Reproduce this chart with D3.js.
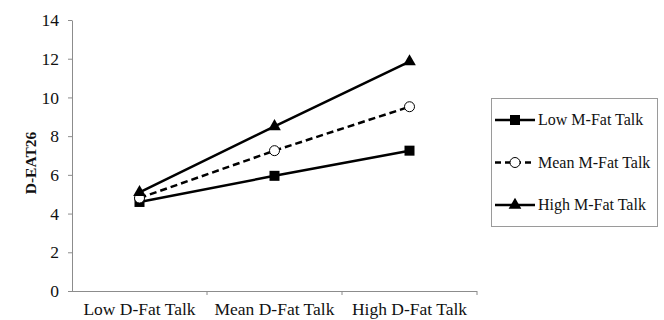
<!DOCTYPE html>
<html>
<head>
<meta charset="utf-8">
<script src="https://cdn.jsdelivr.net/npm/d3@7"></script>
<style>
  body { margin: 0; background: #fff; }
  text { font-family: "Liberation Serif", "Times New Roman", serif; }
</style>
</head>
<body>
<div id="chart"></div>
<script>
// data
var categories = ["Low D-Fat Talk", "Mean D-Fat Talk", "High D-Fat Talk"];
var seriesNames = ["Low M-Fat Talk", "Mean M-Fat Talk", "High M-Fat Talk"];
var lowValues = [4.6, 5.95, 7.25];
var meanValues = [4.8, 7.25, 9.52];
var highValues = [5.1, 8.5, 11.85];
var yTicks = [0, 2, 4, 6, 8, 10, 12, 14];

var W = 664, H = 320;
var margin = { top: 20, right: 187, bottom: 29, left: 72 };
var width = W - margin.left - margin.right;
var height = H - margin.top - margin.bottom;

var svg = d3.select("#chart").append("svg")
    .attr("width", W)
    .attr("height", H);

var g = svg.append("g")
    .attr("transform", `translate(${margin.left},${margin.top})`);

var x = d3.scaleBand()
    .domain(categories)
    .range([0, width]);

var y = d3.scaleLinear()
    .domain([0, 14])
    .range([height, 0]);

// y axis
var yAxis = g.append("g")
    .call(d3.axisLeft(y).tickValues(yTicks).tickSize(4).tickSizeOuter(0).tickPadding(9));
yAxis.select(".domain").attr("stroke", "#8c8c8c");
yAxis.selectAll(".tick line").attr("stroke", "#8c8c8c");
yAxis.selectAll("text")
    .attr("font-size", "17.5px")
    .attr("fill", "#111");

// x axis: ticks at band edges
var xAxisG = g.append("g")
    .attr("transform", `translate(0,${height})`);
xAxisG.append("line")
    .attr("x1", 0).attr("x2", width)
    .attr("y1", 0.5).attr("y2", 0.5)
    .attr("stroke", "#8c8c8c");
var edges = categories.map(c => x(c)).concat([width]);
xAxisG.selectAll(".edge")
    .data(edges.slice(1))
    .enter().append("line")
    .attr("x1", d => d).attr("x2", d => d)
    .attr("y1", 0).attr("y2", 4)
    .attr("stroke", "#8c8c8c");
xAxisG.selectAll(".cat")
    .data(categories)
    .enter().append("text")
    .attr("x", d => x(d) + x.bandwidth() / 2)
    .attr("y", 24)
    .attr("text-anchor", "middle")
    .attr("font-size", "17.5px")
    .attr("fill", "#111")
    .text(d => d);

// y label
g.append("text")
    .attr("transform", "rotate(-90)")
    .attr("x", -143)
    .attr("y", -36)
    .attr("text-anchor", "middle")
    .attr("font-size", "15.5px")
    .attr("font-weight", "bold")
    .attr("fill", "#111")
    .text("D-EAT26");

var series = [
    { name: seriesNames[0], values: lowValues, dash: null, marker: "square" },
    { name: seriesNames[1], values: meanValues, dash: "7,4", marker: "circle" },
    { name: seriesNames[2], values: highValues, dash: null, marker: "triangle" }
];

var line = d3.line()
    .x((d, i) => x(categories[i]) + x.bandwidth() / 2)
    .y(d => y(d));

function drawMarker(sel, type, cx, cy) {
    if (type === "square") {
        sel.append("rect")
            .attr("x", cx - 5).attr("y", cy - 5)
            .attr("width", 10).attr("height", 10)
            .attr("fill", "#000");
    } else if (type === "circle") {
        sel.append("circle")
            .attr("cx", cx).attr("cy", cy).attr("r", 5)
            .attr("fill", "#fff").attr("stroke", "#000").attr("stroke-width", 1);
    } else {
        sel.append("path")
            .attr("d", d3.symbol().type(d3.symbolTriangle).size(70)())
            .attr("transform", `translate(${cx},${cy})`)
            .attr("fill", "#000");
    }
}

series.forEach(function (s) {
    g.append("path")
        .datum(s.values)
        .attr("fill", "none")
        .attr("stroke", "#000")
        .attr("stroke-width", 2.5)
        .attr("stroke-dasharray", s.dash)
        .attr("d", line);
});
series.forEach(function (s) {
    s.values.forEach(function (v, i) {
        drawMarker(g, s.marker, x(categories[i]) + x.bandwidth() / 2, y(v));
    });
});

// legend
var legend = svg.append("g").attr("transform", "translate(491,98)");
legend.append("rect")
    .attr("x", 0.5).attr("y", 0.5)
    .attr("width", 166).attr("height", 128)
    .attr("fill", "#fff")
    .attr("stroke", "#9a9a9a");
series.forEach(function (s, i) {
    var ly = 22 + i * 42.5;
    legend.append("line")
        .attr("x1", 4).attr("x2", 44)
        .attr("y1", ly).attr("y2", ly)
        .attr("stroke", "#000")
        .attr("stroke-width", 2.5)
        .attr("stroke-dasharray", s.dash ? "6,4" : null);
    drawMarker(legend, s.marker, 24, ly);
    legend.append("text")
        .attr("x", 47)
        .attr("y", ly + 5)
        .attr("font-size", "16px")
        .attr("fill", "#111")
        .text(s.name);
});
</script>
</body>
</html>
